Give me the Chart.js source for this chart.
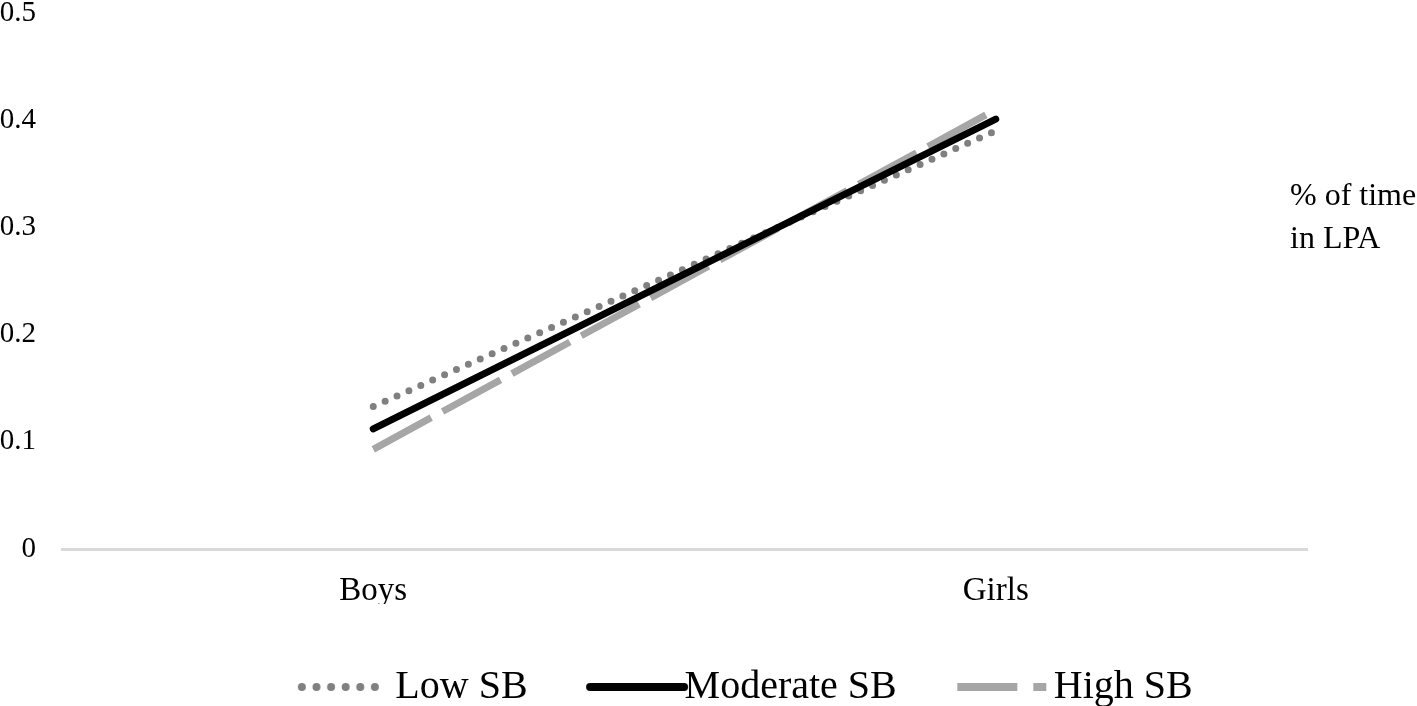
<!DOCTYPE html>
<html>
<head>
<meta charset="utf-8">
<script src="https://cdn.jsdelivr.net/npm/chart.js@4.4.1/dist/chart.umd.min.js"></script>
<style>
  html, body { margin: 0; padding: 0; background: #fff; }
  #wrap { position: relative; width: 1417px; height: 706px; }
</style>
</head>
<body>
<div id="wrap"><canvas id="lpaChart"></canvas></div>
<script>
/* ---------- data ---------- */
const categories = ["Boys", "Girls"];
const lowSB = [0.133, 0.39];
const moderateSB = [0.112, 0.401];
const highSB = [0.093, 0.41];
const yTicks = [0, 0.1, 0.2, 0.3, 0.4, 0.5];
const sideNote = ["% of time", "in LPA"];

Chart.defaults.font.family = '"Liberation Serif", "Times New Roman", serif';
Chart.defaults.color = "#000";

/* ---------- legend samples (the built-in point style ignores dashes) ---------- */
// from / to are measured from the legend box centre
const sampleSpan = [[-35, 47], [-32, 62], [-34, 55]];
function makeSample(ds, i) {
  const c = document.createElement("canvas");
  c.width = 140; c.height = 12;
  const g = c.getContext("2d");
  const [a, b] = sampleSpan[i];
  g.strokeStyle = ds.borderColor;
  g.lineWidth = 8;
  g.lineCap = ds.borderCapStyle || "butt";
  if (i === 0) g.setLineDash([0, 14.6]);
  if (i === 2) g.setLineDash([60, 16]);
  g.beginPath();
  g.moveTo(70 + a + (i === 0 ? 4 : 0), 6);
  g.lineTo(70 + b, 6);
  g.stroke();
  return c;
}

// side label on the right + nudge the legend to where it sits in the original
const sideNotePlugin = {
  id: "sideNote",
  afterLayout(chart) {
    const lg = chart.legend;
    lg.left += 88; lg.right += 88;
    lg.top += 11; lg.bottom += 11;
  },
  afterDraw(chart) {
    const ctx = chart.ctx;
    ctx.save();
    ctx.font = '32px "Liberation Serif", serif';
    ctx.fillStyle = "#000";
    ctx.textBaseline = "middle";
    sideNote.forEach((t, i) => ctx.fillText(t, chart.chartArea.right - 17, 197 + i * 43));
    ctx.restore();
  }
};

new Chart(document.getElementById("lpaChart"), {
  type: "line",
  plugins: [sideNotePlugin],
  data: {
    labels: categories,
    datasets: [
      {
        label: "Low SB",
        data: lowSB,
        borderColor: "#808080",
        backgroundColor: "#808080",
        borderWidth: 7,
        borderDash: [0, 13],
        borderCapStyle: "round",
        pointRadius: 0,
        order: 2,
      },
      {
        label: "Moderate SB",
        data: moderateSB,
        borderColor: "#000000",
        backgroundColor: "#000000",
        borderWidth: 7,
        borderCapStyle: "round",
        pointRadius: 0,
        order: 0,
      },
      {
        label: "High SB",
        data: highSB,
        borderColor: "#a6a6a6",
        backgroundColor: "#a6a6a6",
        borderWidth: 7,
        borderDash: [66, 13],
        borderCapStyle: "butt",
        pointRadius: 0,
        order: 1,
      },
    ],
  },
  options: {
    responsive: true,
    maintainAspectRatio: false,
    animation: false,
    layout: { padding: { right: 110 } },
    plugins: {
      tooltip: { enabled: false },
      legend: {
        position: "bottom",
        labels: {
          usePointStyle: true,
          pointStyleWidth: 85,
          padding: 52,
          font: { size: 40 },
          sort: (a, b) => a.datasetIndex - b.datasetIndex,
          generateLabels(chart) {
            const items = Chart.defaults.plugins.legend.labels.generateLabels(chart);
            items.forEach((it) => {
              it.pointStyle = makeSample(chart.data.datasets[it.datasetIndex], it.datasetIndex);
            });
            return items;
          },
        },
      },
    },
    scales: {
      x: {
        offset: true,
        grid: { display: false, drawTicks: false },
        border: { display: true, color: "#d9d9d9", width: 3 },
        ticks: { font: { size: 33 }, padding: 23 },
        afterFit: (s) => { s.height = 55; },
      },
      y: {
        min: 0,
        max: 0.5,
        grid: { display: false, drawTicks: false },
        border: { display: false },
        ticks: { font: { size: 29 }, padding: 26 },
        afterBuildTicks: (s) => { s.ticks = yTicks.map((v) => ({ value: v })); },
        afterFit: (s) => {
          s.width = 62;
          s.paddingTop = 13;
          s.paddingBottom = 13;
        },
      },
    },
  },
});
</script>
</body>
</html>
